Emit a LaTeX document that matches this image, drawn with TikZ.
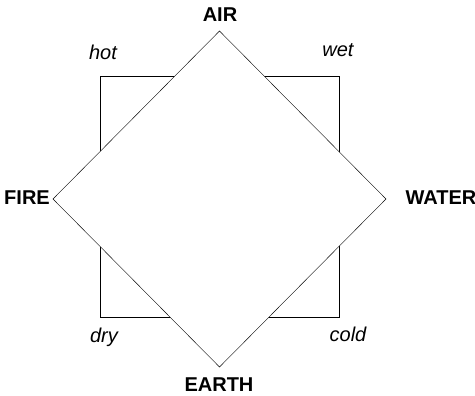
\documentclass[tikz,border=0pt]{standalone}
\usepackage{fontspec}
\setmainfont{Liberation Sans}
\usepackage{tikz}
\usetikzlibrary{positioning}

\begin{document}
\begin{tikzpicture}[x=1pt, y=-1pt,
    element/.style={font=\fontsize{20}{24}\selectfont\bfseries},
    quality/.style={font=\fontsize{20}{24}\selectfont\itshape}]
    \useasboundingbox (0,0) rectangle (475,396);
    \draw (100,76) rectangle (339,317);
    \coordinate (top) at (219.5,31);
    \coordinate (right) at (386,199);
    \coordinate (bottom) at (219.5,367);
    \coordinate (left) at (53,199);
    \filldraw[fill=white] (top) -- (right) -- (bottom) -- (left) -- cycle;
    \node[element] (air) at (220,15) {AIR};
    \node[element] (fire) at (27,198) {FIRE};
    \node[element] (water) at (441,198) {WATER};
    \node[element] (earth) at (219,385) {EARTH};
    \node[quality] (hot) at (103,52) {hot};
    \node[quality] (wet) at (338,50) {wet};
    \node[quality] (dry) at (104,337) {dry};
    \node[quality] (cold) at (348,334) {cold};
\end{tikzpicture}
\end{document}
